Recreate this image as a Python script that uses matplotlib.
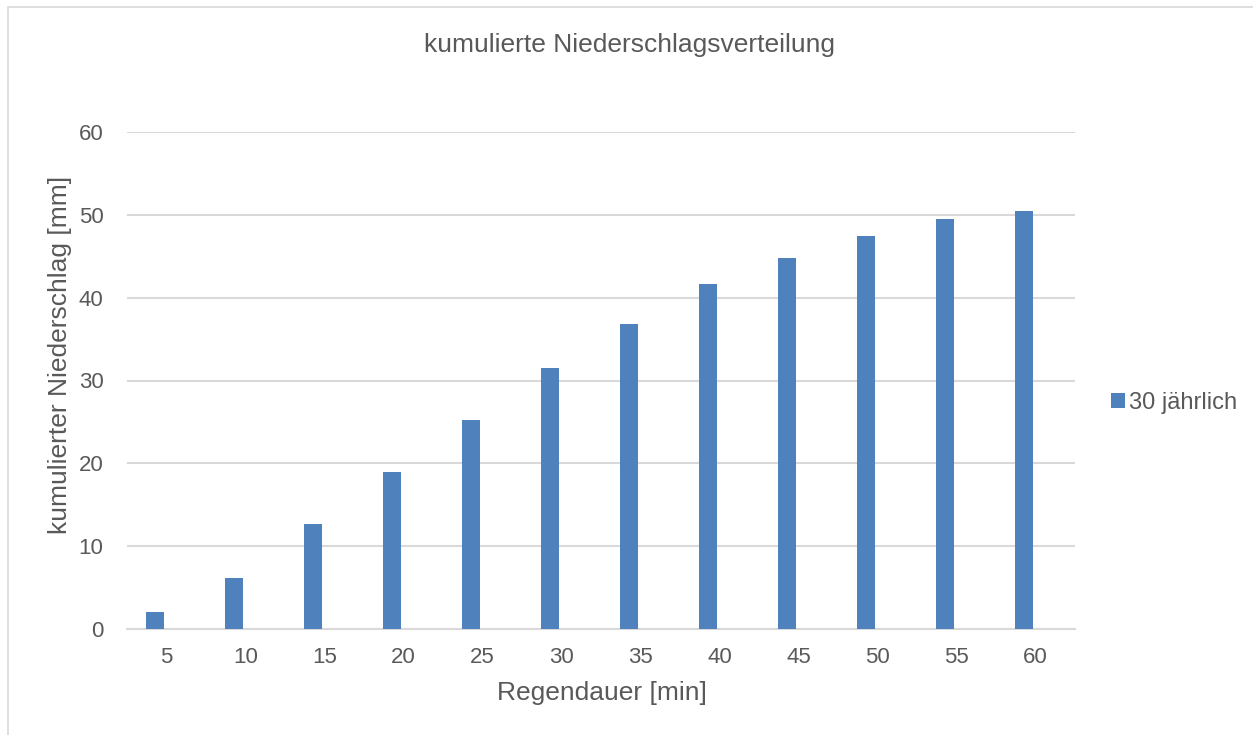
import matplotlib
matplotlib.use("Agg")
import matplotlib.pyplot as plt
import numpy as np
from matplotlib.patches import Rectangle

categories = ["5", "10", "15", "20", "25", "30", "35", "40", "45", "50", "55", "60"]
values = [2.05, 6.1, 12.7, 18.95, 25.2, 31.5, 36.8, 41.65, 44.8, 47.45, 49.45, 50.5]
series_name = "30 jährlich"
yticks = [0, 10, 20, 30, 40, 50, 60]

W, H = 1253, 735
fig = plt.figure(figsize=(W / 100, H / 100), dpi=100)
fig.patch.set_facecolor("white")

# outer frame
fig.patches.append(Rectangle((8 / W, -0.05), 1.2, 1 - 7 / H + 0.05, transform=fig.transFigure,
                             fill=False, edgecolor="#d9d9d9", linewidth=1.2))

left, right, bottom, top = 127 / W, 1075 / W, 1 - 629 / H, 1 - 132 / H
ax = fig.add_axes([left, bottom, right - left, top - bottom])

txt = "#595959"
font = "Liberation Sans"
x = np.arange(len(categories))
ax.bar(x - 0.15, values, width=0.23, color="#4f81bd", label=series_name, zorder=3)

ax.set_xlim(-0.5, len(categories) - 0.5)
ax.set_ylim(0, 60)
ax.set_yticks(yticks)
ax.set_xticks(x)
ax.set_xticklabels(categories)
ax.yaxis.grid(True, color="#d9d9d9", linewidth=1.5, zorder=0)
for s in ["top", "right", "left"]:
    ax.spines[s].set_visible(False)
ax.spines["bottom"].set_color("#d9d9d9")
ax.spines["bottom"].set_linewidth(1.5)
ax.tick_params(axis="both", length=0, colors=txt, labelsize=16)
ax.tick_params(axis="y", pad=17)
ax.tick_params(axis="x", pad=13)
for lab in ax.get_xticklabels() + ax.get_yticklabels():
    lab.set_fontfamily(font)

fig.text(630 / W, 1 - 45 / H, "kumulierte Niederschlagsverteilung", ha="center", va="center",
         fontsize=19, color=txt, family=font)
fig.text(602 / W, 1 - 693 / H, "Regendauer [min]", ha="center", va="center",
         fontsize=19, color=txt, family=font)
fig.text(60 / W, 1 - 355 / H, "kumulierter Niederschlag [mm]", ha="center", va="center",
         rotation=90, fontsize=19, color=txt, family=font)

leg = fig.legend(loc="center left", bbox_to_anchor=(1090 / W, 1 - 403 / H), frameon=False,
                 handlelength=0.6, handleheight=0.6, handletextpad=0.15,
                 prop={"family": font, "size": 17})
for t in leg.get_texts():
    t.set_color(txt)

fig.savefig("out.png", dpi=100)
